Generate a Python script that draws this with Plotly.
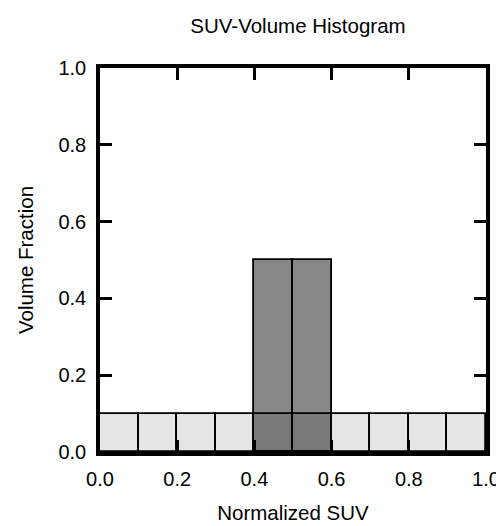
import plotly.graph_objects as go

# Data
bin_left = [0.0, 0.1, 0.2, 0.3, 0.4, 0.5, 0.6, 0.7, 0.8, 0.9]
uniform_fraction = [0.1, 0.1, 0.1, 0.1, 0.1, 0.1, 0.1, 0.1, 0.1, 0.1]
peak_left = [0.4, 0.5]
peak_fraction = [0.5, 0.5]
bin_width = 0.1
tick_vals = [0.0, 0.2, 0.4, 0.6, 0.8, 1.0]
tick_text = ["0.0", "0.2", "0.4", "0.6", "0.8", "1.0"]

font_family = "Liberation Sans, Arial, Helvetica, sans-serif"

fig = go.Figure()
fig.add_trace(go.Bar(
    x=[v + bin_width / 2 for v in peak_left], y=peak_fraction, width=bin_width,
    marker=dict(color="#878787", line=dict(color="black", width=1.8)),
    showlegend=False,
))
fig.add_trace(go.Bar(
    x=[v + bin_width / 2 for v in bin_left], y=uniform_fraction, width=bin_width,
    marker=dict(color="rgba(0,0,0,0.1)", line=dict(color="black", width=1.8)),
    showlegend=False,
))

axis_common = dict(
    range=[0, 1], tickvals=tick_vals, ticktext=tick_text,
    ticks="inside", ticklen=12, tickwidth=3, tickcolor="black",
    showline=True, linewidth=3.5, linecolor="black", mirror="ticks",
    showgrid=False, zeroline=False,
    tickfont=dict(family=font_family, size=20, color="black"),
)

fig.update_layout(
    width=504, height=526,
    margin=dict(l=92, r=15, t=60, b=71),
    barmode="overlay", bargap=0,
    plot_bgcolor="white", paper_bgcolor="white",
    title=dict(text="SUV-Volume Histogram", x=290 / 504, xanchor="center", xref="container",
               y=1 - 18 / 526, yanchor="middle", yref="container",
               font=dict(family=font_family, size=20.5, color="black")),
    xaxis=dict(**axis_common, ticklabelstandoff=6,
               title=dict(text="Normalized SUV", standoff=18,
                          font=dict(family=font_family, size=20.5, color="black"))),
    yaxis=dict(**axis_common, ticklabelstandoff=6,
               title=dict(text="Volume Fraction", standoff=20,
                          font=dict(family=font_family, size=20.5, color="black"))),
)

fig.write_html("out.html")
